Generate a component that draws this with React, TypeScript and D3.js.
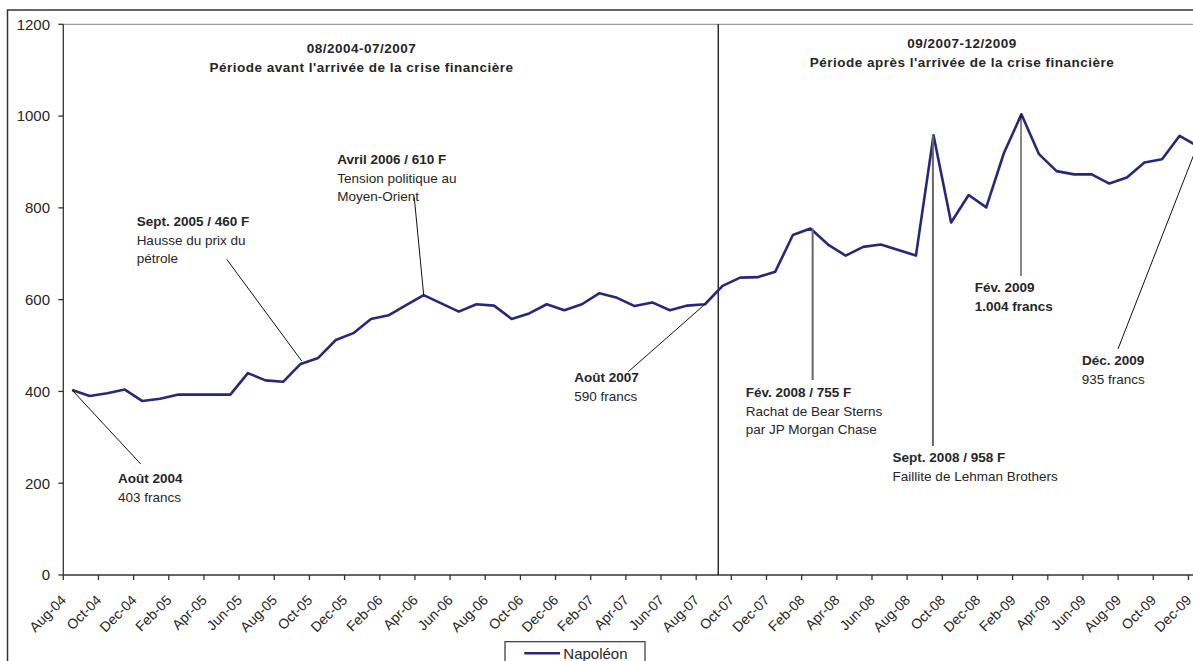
import React from 'react';
import * as d3 from 'd3';

const months = [
  'Aug-04','Sep-04','Oct-04','Nov-04','Dec-04',
  'Jan-05','Feb-05','Mar-05','Apr-05','May-05','Jun-05','Jul-05','Aug-05','Sep-05','Oct-05','Nov-05','Dec-05',
  'Jan-06','Feb-06','Mar-06','Apr-06','May-06','Jun-06','Jul-06','Aug-06','Sep-06','Oct-06','Nov-06','Dec-06',
  'Jan-07','Feb-07','Mar-07','Apr-07','May-07','Jun-07','Jul-07','Aug-07','Sep-07','Oct-07','Nov-07','Dec-07',
  'Jan-08','Feb-08','Mar-08','Apr-08','May-08','Jun-08','Jul-08','Aug-08','Sep-08','Oct-08','Nov-08','Dec-08',
  'Jan-09','Feb-09','Mar-09','Apr-09','May-09','Jun-09','Jul-09','Aug-09','Sep-09','Oct-09','Nov-09','Dec-09',
];

const napoleon = [
  403, 390, 396, 404, 379,
  384, 393, 393, 393, 393, 440, 424, 421, 460, 473, 512, 527,
  558, 566, 588, 610, 592, 574, 590, 587, 558, 570, 590, 577,
  590, 614, 604, 586, 594, 577, 587, 590, 630, 648, 649, 661,
  741, 755, 720, 696, 715, 720, 708, 696, 958, 768, 828, 801,
  919, 1004, 917, 880, 873, 873, 853, 866, 899, 906, 957, 935,
];

const yTicks = [0, 200, 400, 600, 800, 1000, 1200];
const xTickLabels = months.filter((_, i) => i % 2 === 0);

const seriesName = 'Napoléon';

const periodHeaders = [
  { from: 'Aug-04', to: 'Aug-07', lines: ['08/2004-07/2007', "Période avant l'arrivée de la crise financière"] },
  { from: 'Sep-07', to: 'Dec-09', lines: ['09/2007-12/2009', "Période après l'arrivée de la crise financière"] },
];

// annotations: month, value, label offset (relative to point), leader offsets
const annotations = [
  { month: 'Aug-04', lines: ['Août 2004', '403 francs'], bold: [true, false], tdx: 46, tdy: 93, anchor: 'start', l0: [0, 0], l1: [68.6, 73.9], gray: false },
  { month: 'Sep-05', lines: ['Sept. 2005 / 460 F', 'Hausse du prix du', 'pétrole'], bold: [true, false, false], tdx: -164, tdy: -138, anchor: 'start', l0: [1, -3], l1: [-73.9, -104.6], gray: false },
  { month: 'Apr-06', lines: ['Avril 2006 / 610 F', 'Tension politique au', 'Moyen-Orient'], bold: [true, false, false], tdx: -86.4, tdy: -131, anchor: 'start', l0: [0, 0], l1: [-9.4, -97.4], gray: false },
  { month: 'Aug-07', lines: ['Août 2007', '590 francs'], bold: [true, false], tdx: -130.7, tdy: 78, anchor: 'start', l0: [0, 0], l1: [-76.7, 67.5], gray: false },
  { month: 'Feb-08', lines: ['Fév. 2008 / 755 F', 'Rachat de Bear Sterns', 'par JP Morgan Chase'], bold: [true, false, false], tdx: -64.8, tdy: 168.5, anchor: 'start', l0: [2.2, 0], l1: [2.2, 151.5], gray: true },
  { month: 'Sep-08', lines: ['Sept. 2008 / 958 F', 'Faillite de Lehman Brothers'], bold: [true, false], tdx: -40.9, tdy: 326.6, anchor: 'start', l0: [-0.6, 0], l1: [-0.6, 310.6], gray: true },
  { month: 'Feb-09', lines: ['Fév. 2009', '1.004 francs'], bold: [true, true], tdx: -46.7, tdy: 177.7, anchor: 'start', l0: [-0.4, 0], l1: [-0.4, 161.7], gray: false },
  { month: 'Dec-09', lines: ['Déc. 2009', '935 francs'], bold: [true, false], tdx: -84, tdy: 219.5, anchor: 'middle', l0: [0, 0], l1: [-79.2, 203.1], gray: false },
];

const W = 1193;
const H = 661;
const FONT = '"Liberation Sans", Arial, sans-serif';
const LINE_COLOR = '#28287a';
const TEXT_COLOR = '#262626';

export default function App() {
  const plotLeft = 63.3;
  const step = 17.58;
  const plotTop = 24.3;
  const plotBottom = 575;

  const x = d3.scaleBand<string>()
    .domain(months)
    .range([plotLeft, plotLeft + step * months.length])
    .paddingInner(0)
    .paddingOuter(0);
  const cx = (m: string) => (x(m) as number) + x.bandwidth() / 2;

  const y = d3.scaleLinear().domain([0, 1200]).range([plotBottom, plotTop]);

  const line = d3.line<number>()
    .x((_, i) => cx(months[i]))
    .y((d) => y(d));

  const lineH = 18.7;
  // separator between periods: a bit before Sep-07 center
  const sepX = cx('Sep-07') - 4.3;

  return (
    <svg width={W} height={H} style={{ position: 'absolute', left: 0, top: 0, background: '#fff' }} fontFamily={FONT}>
      <rect x={0} y={0} width={W} height={H} fill="#fff" />
      {/* outer chart border */}
      <rect x={7.5} y={10} width={W + 100} height={H + 100} fill="none" stroke="#333" strokeWidth={1.5} />
      {/* plot area top border */}
      <line x1={plotLeft} x2={W + 10} y1={plotTop} y2={plotTop} stroke="#9a9a9a" strokeWidth={1.2} />

      {/* y axis */}
      <line x1={plotLeft} x2={plotLeft} y1={plotTop} y2={plotBottom} stroke="#333" strokeWidth={1.3} />
      {yTicks.map((t) => (
        <g key={t}>
          <line x1={plotLeft - 5} x2={plotLeft} y1={y(t)} y2={y(t)} stroke="#333" strokeWidth={1.3} />
          <text x={50} y={y(t)} dy="0.36em" textAnchor="end" fontSize={15} fill={TEXT_COLOR}>{t}</text>
        </g>
      ))}

      {/* x axis */}
      <line x1={plotLeft} x2={W + 10} y1={plotBottom} y2={plotBottom} stroke="#333" strokeWidth={1.3} />
      {xTickLabels.map((m) => (
        <g key={m}>
          <line x1={x(m) as number} x2={x(m) as number} y1={plotBottom} y2={plotBottom + 5} stroke="#333" strokeWidth={1.3} />
          <text
            transform={`translate(${cx(m) - 5},${plotBottom + 26}) rotate(-45)`}
            textAnchor="end"
            fontSize={14}
            fill={TEXT_COLOR}
          >{m}</text>
        </g>
      ))}

      {/* separator */}
      <line x1={sepX} x2={sepX} y1={plotTop} y2={plotBottom} stroke="#111" strokeWidth={1.3} />

      {/* period headers */}
      {periodHeaders.map((p, k) => {
        const mid = k === 0 ? 361.5 : 962;
        const top = k === 0 ? 53 : 48;
        return (
          <g key={k}>
            {p.lines.map((l, j) => (
              <text key={j} x={mid} y={top + j * 19} textAnchor="middle" fontSize={13.5} fontWeight="bold" letterSpacing={0.5} fill={TEXT_COLOR}>{l}</text>
            ))}
          </g>
        );
      })}

      {/* series line */}
      <path d={line(napoleon) || ''} fill="none" stroke={LINE_COLOR} strokeWidth={2.6} strokeLinejoin="round" />

      {/* annotations */}
      {annotations.map((a, k) => {
        const i = months.indexOf(a.month);
        const px = cx(a.month);
        const py = y(napoleon[i]);
        return (
          <g key={k}>
            <line
              x1={px + a.l0[0]} y1={py + a.l0[1]}
              x2={px + a.l1[0]} y2={py + a.l1[1]}
              stroke={a.gray ? '#666' : '#111'}
              strokeWidth={a.gray ? 2 : 1}
            />
            {a.lines.map((l, j) => (
              <text
                key={j}
                x={px + a.tdx}
                y={py + a.tdy + j * lineH}
                textAnchor={a.anchor as any}
                fontSize={13.5}
                fontWeight={a.bold[j] ? 'bold' : 'normal'}
                fill={TEXT_COLOR}
              >{l}</text>
            ))}
          </g>
        );
      })}

      {/* legend */}
      <rect x={505} y={641.7} width={140} height={40} fill="#fff" stroke="#333" strokeWidth={1.2} />
      <line x1={524.3} x2={560} y1={653.3} y2={653.3} stroke={LINE_COLOR} strokeWidth={2.6} />
      <text x={563.3} y={653.3} dy="0.36em" fontSize={15} fill={TEXT_COLOR}>{seriesName}</text>
    </svg>
  );
}
